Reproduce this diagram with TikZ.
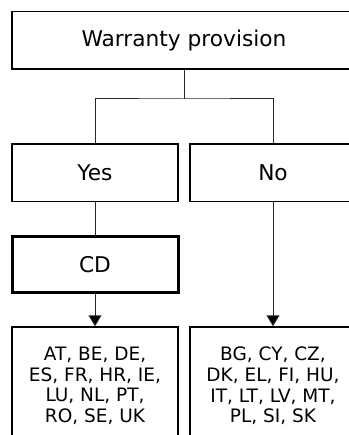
\documentclass[tikz,border=0pt]{standalone}
\usepackage{fontspec}
\setmainfont{DejaVu Sans}
\usetikzlibrary{arrows.meta}
\begin{document}
\begin{tikzpicture}[x=1pt,y=-1pt,
  box/.style={draw=black, line width=1.5pt, fill=white, inner sep=0pt,
    minimum height=57.5pt, align=center},
  thickbox/.style={box, line width=3pt},
  link/.style={draw=black!85, line width=1pt},
  arrowlink/.style={link, -{Triangle[width=13pt,length=11pt,fill=black]}},
  bigtext/.style={font=\fontsize{21.7}{24}\selectfont},
  listtext/.style={font=\fontsize{18.5}{20.6}\selectfont}]
\useasboundingbox (0,0) rectangle (348,435);
\fill[white] (0,0) rectangle (348,435);
% decision boxes
\node[box, bigtext, minimum width=344pt] (root) at (184,40.5) {Warranty provision};
\node[box, bigtext, minimum width=166pt] (yes) at (95,173) {Yes};
\node[box, bigtext, minimum width=166pt] (no) at (273,173) {No};
\node[thickbox, bigtext, minimum width=166pt, minimum height=56pt] (cd) at (95,264.5) {CD};
% country lists
\node[box, listtext, minimum width=166pt, minimum height=118pt] (listA) at (95,386)
  {AT, BE, DE,\\ES, FR, HR, IE,\\LU, NL, PT,\\RO, SE, UK};
\node[box, listtext, minimum width=166pt, minimum height=118pt] (listB) at (273,386)
  {BG, CY, CZ,\\DK, EL, FI, HU,\\IT, LT, LV, MT,\\PL, SI, SK};
% connectors
\coordinate (split) at (184,99);
\draw[link] (root.south) -- (split);
\draw[link] (yes.north) |- (split) -| (no.north);
\draw[link] (yes.south) -- (cd.north);
\draw[arrowlink] (cd.south) -- (listA.north);
\draw[arrowlink] (no.south) -- (listB.north);
\end{tikzpicture}
\end{document}
